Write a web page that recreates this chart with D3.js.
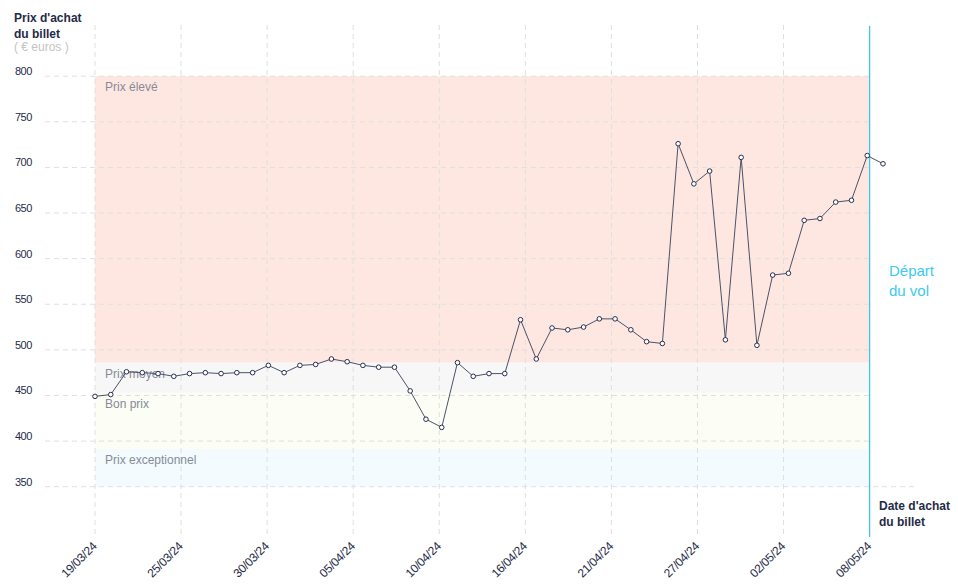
<!DOCTYPE html>
<html>
<head>
<meta charset="utf-8">
<script src="https://cdn.jsdelivr.net/npm/d3@7"></script>
<style>
  body { margin: 0; background: #fff; }
  svg { font-family: "Liberation Sans", Arial, sans-serif; }
</style>
</head>
<body>
<svg id="chart" width="958" height="585"></svg>
<script>
// prix du billet, un point par jour d'achat
const prices = [449, 451, 476, 475, 474, 471, 474, 475, 474, 475,
  475, 483, 475, 483, 484, 490, 487, 483, 481, 481,
  455, 424, 415, 486, 471, 474, 474, 533, 490, 524,
  522, 525, 534, 534, 522, 509, 507, 726, 682, 696,
  511, 711, 505, 582, 584, 642, 644, 662, 664, 713, 704];

const tickLabels = ["19/03/24", "25/03/24", "30/03/24", "05/04/24", "10/04/24",
  "16/04/24", "21/04/24", "27/04/24", "02/05/24", "08/05/24"];

const yTicks = [350, 400, 450, 500, 550, 600, 650, 700, 750, 800];

// zones de prix [bas, haut]
const bandNames = ["Prix élevé", "Prix moyen", "Bon prix", "Prix exceptionnel"];
const bandRanges = [[486, 800], [453, 486], [391, 453], [350, 391]];
const bandColors = ["#fee7e1", "#f7f7f7", "#fcfdf4", "#f3fbfe"];

const departIndex = 49.15; // position du départ du vol sur l'axe

const svg = d3.select("#chart");

const x = d3.scaleLinear().domain([0, prices.length - 1]).range([95, 883]);
const y = d3.scaleLinear().domain([350, 800]).range([486.7, 76.2]);
const tickPos = tickLabels.map((d, i) => i * departIndex / (tickLabels.length - 1));

const xLeft = x(0), xDepart = x(departIndex);

// ---- zones ----
svg.append("g").selectAll("rect")
  .data(bandRanges)
  .join("rect")
  .attr("x", xLeft)
  .attr("width", xDepart - xLeft)
  .attr("y", d => y(d[1]))
  .attr("height", d => y(d[0]) - y(d[1]))
  .attr("fill", (d, i) => bandColors[i]);

// ---- grille ----
const grid = svg.append("g")
  .attr("stroke", "#dfdfdf")
  .attr("stroke-dasharray", "5,4");

grid.selectAll(".hgrid")
  .data(yTicks)
  .join("line")
  .attr("x1", 45)
  .attr("x2", d => d === 350 ? 918 : xDepart)
  .attr("y1", d => y(d))
  .attr("y2", d => y(d));

grid.selectAll(".vgrid")
  .data(tickPos.slice(0, -1))
  .join("line")
  .attr("x1", d => x(d))
  .attr("x2", d => x(d))
  .attr("y1", 25)
  .attr("y2", 537);

// ---- axe Y ----
svg.append("g").selectAll("text")
  .data(yTicks)
  .join("text")
  .attr("x", 15)
  .attr("y", d => y(d) - 1)
  .attr("font-size", 11)
  .attr("fill", "#1f2b47")
  .style("letter-spacing", "-0.5px")
  .text(d => d);

// ---- axe X ----
const xAxis = svg.append("g")
  .attr("transform", "translate(0,537)")
  .call(d3.axisBottom(x).tickValues(tickPos).tickFormat((d, i) => tickLabels[i]).tickSize(0));
xAxis.select(".domain").remove();
xAxis.selectAll("text")
  .attr("font-family", "Liberation Sans, Arial, sans-serif")
  .attr("font-size", 12)
  .attr("fill", "#1f2b47")
  .style("letter-spacing", "-0.3px")
  .attr("text-anchor", "end")
  .attr("x", 0)
  .attr("y", 0)
  .attr("dy", 0)
  .attr("transform", "translate(2,10) rotate(-45)");

// ---- libellés des zones ----
svg.append("g").selectAll("text")
  .data(bandRanges)
  .join("text")
  .attr("x", 105)
  .attr("y", d => y(d[1]) + 15)
  .attr("font-size", 12)
  .attr("fill", "#868b97")
  .text((d, i) => bandNames[i]);

// ---- ligne de départ ----
svg.append("line")
  .attr("x1", xDepart).attr("x2", xDepart)
  .attr("y1", 26).attr("y2", 537)
  .attr("stroke", "#3fc4f0")
  .attr("stroke-width", 1.3);

// ---- série ----
svg.append("path")
  .datum(prices)
  .attr("fill", "none")
  .attr("stroke", "#4b5269")
  .attr("stroke-width", 1)
  .attr("d", d3.line().x((d, i) => x(i)).y(d => y(d)));

svg.append("g").selectAll("circle")
  .data(prices)
  .join("circle")
  .attr("cx", (d, i) => x(i))
  .attr("cy", d => y(d))
  .attr("r", 2.3)
  .attr("fill", "#fff")
  .attr("stroke", "#27314d")
  .attr("stroke-width", 1);

// ---- titres ----
const title = svg.append("text").attr("x", 14).attr("font-size", 12)
  .attr("font-weight", "bold").attr("fill", "#1f2b47");
title.append("tspan").attr("x", 14).attr("y", 22).text("Prix d'achat");
title.append("tspan").attr("x", 14).attr("y", 38).text("du billet");
svg.append("text").attr("x", 14).attr("y", 51).attr("font-size", 12)
  .attr("fill", "#c4c4c4").text("( € euros )");

const xTitle = svg.append("text").attr("font-size", 12)
  .attr("font-weight", "bold").attr("fill", "#1f2b47");
xTitle.append("tspan").attr("x", 879).attr("y", 510).text("Date d'achat");
xTitle.append("tspan").attr("x", 879).attr("y", 526).text("du billet");

const depart = svg.append("text").attr("font-size", 15).attr("fill", "#3ccaf2");
depart.append("tspan").attr("x", 889).attr("y", 276).text("Départ");
depart.append("tspan").attr("x", 889).attr("y", 296).text("du vol");
</script>
</body>
</html>
